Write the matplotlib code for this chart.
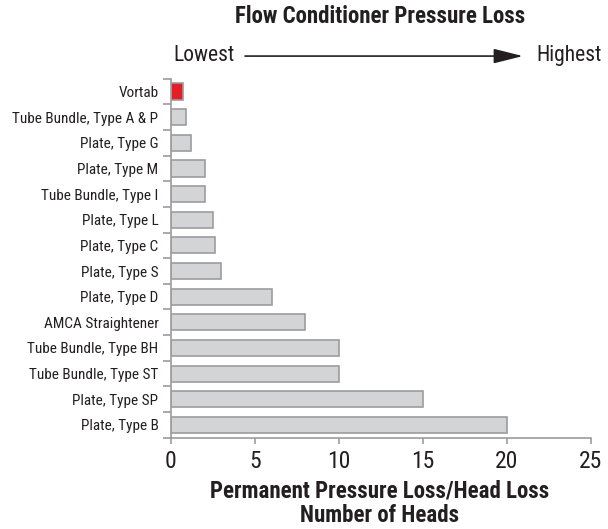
import matplotlib
matplotlib.use("Agg")
import matplotlib.pyplot as plt
from matplotlib.patches import FancyArrowPatch

# data, top to bottom as in the chart
categories = ["Vortab", "Tube Bundle, Type A & P", "Plate, Type G", "Plate, Type M",
              "Tube Bundle, Type I", "Plate, Type L", "Plate, Type C", "Plate, Type S",
              "Plate, Type D", "AMCA Straightener", "Tube Bundle, Type BH",
              "Tube Bundle, Type ST", "Plate, Type SP", "Plate, Type B"]
head_loss = [0.7, 0.9, 1.2, 2.0, 2.0, 2.5, 2.6, 3.0, 6.0, 8.0, 10.0, 10.0, 15.0, 20.0]
highlight = "Vortab"
x_ticks = [0, 5, 10, 15, 20, 25]

plt.rcParams['font.family'] = ['Roboto Condensed', 'DejaVu Sans']

fig = plt.figure(figsize=(6.08, 5.29), dpi=100)
ax = fig.add_axes([0.2812, 0.1726, 0.6908, 0.6786])

ypos = list(range(len(categories)))
colors = ["#e31e26" if c == highlight else "#d3d4d6" for c in categories]
ax.barh(ypos, head_loss, height=0.63, color=colors, edgecolor="#9c9c9e", linewidth=1.2)

ax.set_ylim(len(categories) - 0.5, -0.5)
ax.set_xlim(0, 25)
ax.set_xticks(x_ticks)
ax.set_yticks(ypos)
ax.set_yticklabels(categories, fontsize=11, color="#231f20")
ax.set_yticks([i - 0.5 for i in range(len(categories) + 1)], minor=True)
ax.tick_params(axis="y", which="major", length=0, pad=9)
ax.tick_params(axis="y", which="minor", length=6, width=1.2, color="#9c9c9e")
ax.tick_params(axis="x", length=4, width=1.2, color="#9c9c9e", labelsize=17, pad=5,
               labelcolor="#231f20")

for s in ["top", "right"]:
    ax.spines[s].set_visible(False)
for s in ["left", "bottom"]:
    ax.spines[s].set_color("#9c9c9e")
    ax.spines[s].set_linewidth(1.2)

fig.text(0.625, 0.968, "Flow Conditioner Pressure Loss", ha="center", va="center",
         fontsize=16.5, fontweight="bold", color="#231f20")
fig.text(0.2845, 0.896, "Lowest", ha="left", va="center", fontsize=15.5, color="#231f20")
fig.text(0.990, 0.896, "Highest", ha="right", va="center", fontsize=15.5, color="#231f20")
fig.add_artist(FancyArrowPatch((0.403, 0.894), (0.860, 0.894),
               transform=fig.transFigure, arrowstyle="-|>,head_length=1.8,head_width=0.45",
               mutation_scale=10, color="#231f20", linewidth=1.2, shrinkA=0, shrinkB=0))

fig.text(0.625, 0.071, "Permanent Pressure Loss/Head Loss", ha="center", va="center",
         fontsize=16.5, fontweight="bold", color="#231f20")
fig.text(0.625, 0.025, "Number of Heads", ha="center", va="center",
         fontsize=16.5, fontweight="bold", color="#231f20")

fig.savefig("out.png", dpi=100)
